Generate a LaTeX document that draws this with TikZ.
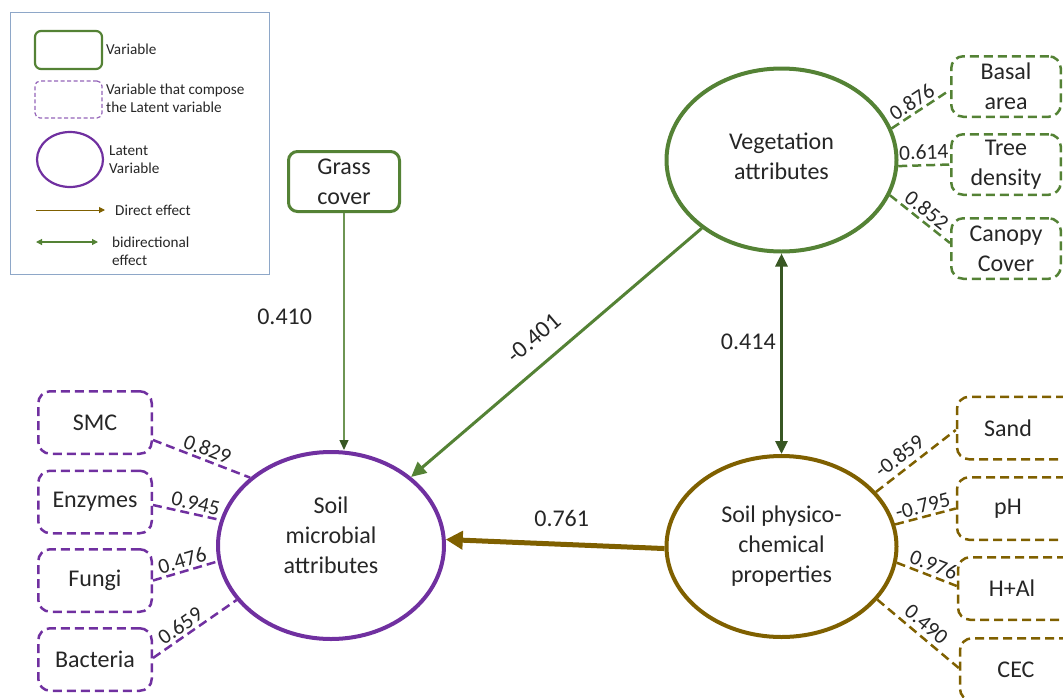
\documentclass[tikz,border=0pt]{standalone}
\usepackage{fontspec}
\setmainfont{Carlito}
\usetikzlibrary{arrows.meta,shapes.geometric}
\definecolor{vgreen}{HTML}{548235}
\definecolor{bgreen}{HTML}{385723}
\definecolor{lpurple}{HTML}{7030A0}
\definecolor{sbrown}{HTML}{7F6000}
\definecolor{legframe}{HTML}{8EA7C8}
\definecolor{ink}{HTML}{262626}
\newcommand{\bigfs}{\fontsize{24}{30}\selectfont}
\newcommand{\smallfs}{\fontsize{21.5}{21.5}\selectfont}
\newcommand{\legfs}{\fontsize{15.2}{18}\selectfont}
\tikzset{
  latent/.style={ellipse, line width=4pt, inner sep=0pt, align=center,
    font=\bigfs, text=ink},
  obsbox/.style={rectangle, rounded corners=9pt, line width=3pt, draw=vgreen,
    align=center, font=\bigfs, text=ink, inner sep=0pt},
  indbox/.style={rectangle, rounded corners=12pt, line width=2.5pt,
    dash pattern=on 9pt off 5pt, align=center, font=\bigfs, text=ink,
    inner sep=0pt, minimum height=62.5pt},
  loadline/.style={line width=2.5pt, dash pattern=on 9pt off 5pt},
  loadlbl/.style={font=\smallfs, text=ink, sloped, above, inner sep=2.5pt},
  pathlbl/.style={font=\bigfs, text=ink},
  legtxt/.style={font=\legfs, text=ink, anchor=west, align=left, inner sep=0pt},
}
\begin{document}
\begin{tikzpicture}[x=1pt, y=-1pt]
\useasboundingbox (0,0) rectangle (1063,697);

% ---- legend ----
\node[draw=legframe, line width=1.2pt, minimum width=259pt, minimum height=262pt,
  inner sep=0pt] (legend) at (140,143.5) {};
\node[draw=vgreen, line width=2.2pt, rounded corners=6pt, minimum width=67pt,
  minimum height=38pt, inner sep=0pt] (kvar) at (68.5,50) {};
\node[legtxt] (kvartxt) at (106,49) {Variable};
\node[draw=lpurple!75, line width=1.2pt, dash pattern=on 4pt off 2.5pt,
  rounded corners=5pt, minimum width=67pt, minimum height=37pt, inner sep=0pt]
  (kind) at (68.5,99.5) {};
\node[legtxt] (kindtxt) at (106,98) {Variable that compose\\the Latent variable};
\node[draw=lpurple, ellipse, line width=2.2pt, minimum width=66pt,
  minimum height=55pt, inner sep=0pt] (klat) at (70,159.5) {};
\node[legtxt] (klattxt) at (109,160) {Latent\\Variable};
\coordinate (kd1) at (36,210);
\coordinate (kd2) at (105,210);
\draw[sbrown, line width=1pt, -{Triangle[length=6pt,width=6pt]}] (kd1) -- (kd2);
\node[legtxt] (kdtxt) at (115,210) {Direct effect};
\coordinate (kb1) at (36,242);
\coordinate (kb2) at (98,242);
\draw[vgreen, line width=1.2pt,
  {Triangle[length=6pt,width=6pt]}-{Triangle[length=6pt,width=6pt]}] (kb1) -- (kb2);
\node[legtxt] (kbtxt) at (112,251) {bidirectional\\effect};

% ---- latent variables ----
\node[latent, draw=lpurple, minimum width=226pt, minimum height=187pt,
  text depth=20pt] (micro) at (331,545.5) {Soil\\microbial\\attributes};
\node[latent, draw=vgreen, minimum width=230pt, minimum height=183pt,
  text depth=7pt] (veg) at (781.5,160) {Vegetation\\attributes};
\node[latent, draw=sbrown, minimum width=230pt, minimum height=181pt]
  (phys) at (781.5,546.5) {Soil physico-\\chemical\\properties};

% ---- observed variable ----
\node[obsbox, minimum width=111pt, minimum height=60pt] (grass) at (344,181.5)
  {Grass\\cover};

% ---- indicators of soil microbial attributes ----
\begin{scope}[every node/.style={indbox, draw=lpurple, minimum width=113.5pt}]
  \node (smc) at (95,422.5) {SMC};
  \node (enz) at (95,502) {Enzymes};
  \node (fungi) at (95,580.5) {Fungi};
  \node (bact) at (95,659.5) {Bacteria};
\end{scope}

% ---- indicators of vegetation attributes ----
\begin{scope}[every node/.style={indbox, draw=vgreen, minimum width=109.5pt,
    minimum height=60.5pt}]
  \node (basal) at (1006,86.5) {Basal\\area};
  \node (tree) at (1006,164.5) {Tree\\density};
  \node (canopy) at (1006,248.5) {Canopy\\Cover};
\end{scope}

% ---- indicators of soil physico-chemical properties (run past the right edge) ----
\begin{scope}[every node/.style={indbox, draw=sbrown, minimum width=120pt}]
  \node (sand) at (1017,428) {\hspace*{-18pt}Sand};
  \node (ph) at (1017,508.5) {\hspace*{-18pt}pH};
  \node (hal) at (1018,588.5) {\hspace*{-12pt}H+Al};
  \node (cec) at (1020,669.5) {\hspace*{-8pt}CEC};
\end{scope}

% ---- loadings ----
\begin{scope}[loadline, draw=lpurple]
  \draw ([yshift=-17.5pt]smc.east) -- (micro.140) node[loadlbl, pos=0.52] (lsmc) {0.829};
  \draw ([yshift=-3pt]enz.east) -- (micro.167) node[loadlbl, pos=0.6] (lenz) {0.945};
  \draw (fungi.east) -- (micro.188) node[loadlbl, pos=0.5] (lfun) {0.476};
  \draw ([yshift=1.5pt]bact.east) -- (micro.210) node[loadlbl, pos=0.4] (lbac) {0.659};
\end{scope}
\begin{scope}[loadline, draw=vgreen]
  \draw (veg.16) -- ([yshift=-3.5pt]basal.west) node[loadlbl, pos=0.45] (lbas) {0.876};
  \draw (veg.-3) -- (tree.west) node[loadlbl, pos=0.5, above=2pt] (ltre) {0.614};
  \draw (veg.-18) -- ([yshift=5.5pt]canopy.west) node[loadlbl, pos=0.5] (lcan) {0.852};
\end{scope}
\begin{scope}[loadline, draw=sbrown]
  \draw (phys.30) -- ([yshift=-2pt]sand.west) node[loadlbl, pos=0.4, above=3pt] (lsan) {-0.859};
  \draw (phys.11) -- (ph.west) node[loadlbl, pos=0.5] (lph) {-0.795};
  \draw (phys.-8) -- ([yshift=2.5pt]hal.west) node[loadlbl, pos=0.55] (lhal) {0.976};
  \draw (phys.-29) -- ([yshift=1.5pt]cec.west) node[loadlbl, pos=0.5, above=2pt] (lcec) {0.490};
\end{scope}

% ---- structural paths ----
\draw[vgreen!85, line width=1.3pt,
  -{Triangle[length=10pt,width=9pt,color=bgreen]}]
  (grass.south) -- (grass.south |- micro.north)
  node[pathlbl, pos=0.44, left=28pt] (lgrass) {0.410};
\draw[vgreen, line width=3pt, -{Triangle[length=15pt,width=14pt]}]
  (veg) -- (micro) node[pathlbl, sloped, above=13pt, pos=0.52] (lveg) {-0.401};
\draw[bgreen, line width=3pt,
  {Triangle[length=13pt,width=12pt]}-{Triangle[length=13pt,width=12pt]}]
  (veg.south) -- (phys.north) node[pathlbl, pos=0.44, left=1pt] (lbid) {0.414};
\draw[sbrown, line width=5pt, -{Triangle[length=17pt,width=18pt]}]
  (phys.181) -- (micro.3) node[pathlbl, pos=0.47, above=12pt] (lphys) {0.761};
\end{tikzpicture}
\end{document}
